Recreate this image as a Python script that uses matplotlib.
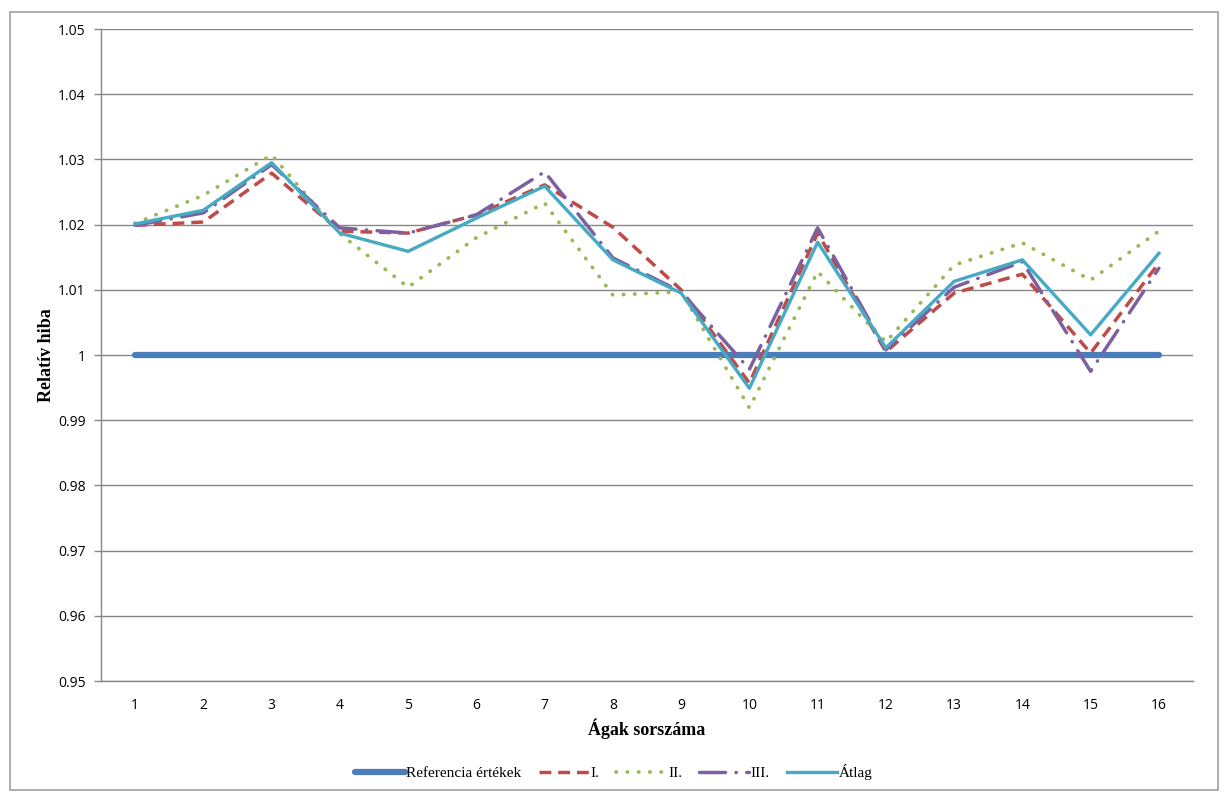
import matplotlib.pyplot as plt
from matplotlib.patches import Rectangle

# data
branches = list(range(1, 17))
reference = [1.0] * 16
series_1 = [1.0199, 1.0204, 1.0279, 1.0190, 1.0187, 1.0215, 1.0261, 1.0196,
            1.0100, 0.9957, 1.0187, 1.0005, 1.0095, 1.0124, 1.0003, 1.0141]
series_2 = [1.0202, 1.0245, 1.0307, 1.0186, 1.0104, 1.0180, 1.0233, 1.0092,
            1.0097, 0.9919, 1.0128, 1.0020, 1.0138, 1.0172, 1.0115, 1.0190]
series_3 = [1.0199, 1.0218, 1.0292, 1.0195, 1.0187, 1.0215, 1.0281, 1.0149,
            1.0097, 0.9978, 1.0195, 1.0008, 1.0104, 1.0143, 0.9975, 1.0133]
average = [1.0201, 1.0222, 1.0295, 1.0187, 1.0159, 1.0210, 1.0259, 1.0146,
           1.0095, 0.9949, 1.0173, 1.0011, 1.0113, 1.0146, 1.0031, 1.0156]
yticks = [0.95, 0.96, 0.97, 0.98, 0.99, 1.0, 1.01, 1.02, 1.03, 1.04, 1.05]
ytick_labels = ["0.95", "0.96", "0.97", "0.98", "0.99", "1", "1.01", "1.02", "1.03", "1.04", "1.05"]

fig = plt.figure(figsize=(12.27, 7.93), dpi=100)
ax = fig.add_axes([0.0823, 0.1412, 0.890, 0.8222])

ax.plot(branches, reference, color="#4A7EBB", lw=4.5, solid_capstyle="round", label="Referencia értékek")
ax.plot(branches, series_1, color="#BE4B48", lw=2.5, dashes=(3.4, 2), label="I.")
ax.plot(branches, series_2, color="#98B954", lw=2.7, dashes=(0.1, 2.9), dash_capstyle="round", label="II.")
ax.plot(branches, series_3, color="#7D60A0", lw=2.5, dashes=(7.5, 3, 0.1, 3), dash_capstyle="round", label="III.")
ax.plot(branches, average, color="#46AAC5", lw=2.4, label="Átlag")

ax.set_xlim(0.5, 16.5)
ax.set_ylim(0.95, 1.05)
ax.set_xticks(branches)
ax.set_xticklabels([str(b) for b in branches], fontsize=10, family="Open Sans")
ax.set_yticks(yticks)
ax.set_yticklabels(ytick_labels, fontsize=10, family="Open Sans")
ax.tick_params(axis="x", length=0, pad=12)
ax.tick_params(axis="y", length=5, width=1, color="#868686", pad=6)

ax.grid(axis="y", color="#868686", lw=1)
ax.set_axisbelow(True)
for s in ["top", "right"]:
    ax.spines[s].set_visible(False)
for s in ["left", "bottom"]:
    ax.spines[s].set_color("#868686")
    ax.spines[s].set_linewidth(1)

ax.set_xlabel("Ágak sorszáma", family="Liberation Serif", fontweight="bold", fontsize=13, labelpad=4)
ax.set_ylabel("Relatív hiba", family="Liberation Serif", fontweight="bold", fontsize=13, labelpad=2)

fig.legend(loc="center", bbox_to_anchor=(0.5, 0.026), ncol=5, frameon=False,
           prop={"family": "Liberation Serif", "size": 11}, handlelength=3.3,
           handletextpad=0.1, columnspacing=1.1)

fig.patches.append(Rectangle((10 / 1227, 3 / 793), 1208 / 1227, 778 / 793, transform=fig.transFigure,
                             fill=False, edgecolor="#A0A0A0", lw=1.2))

fig.savefig("out.png", dpi=100)
